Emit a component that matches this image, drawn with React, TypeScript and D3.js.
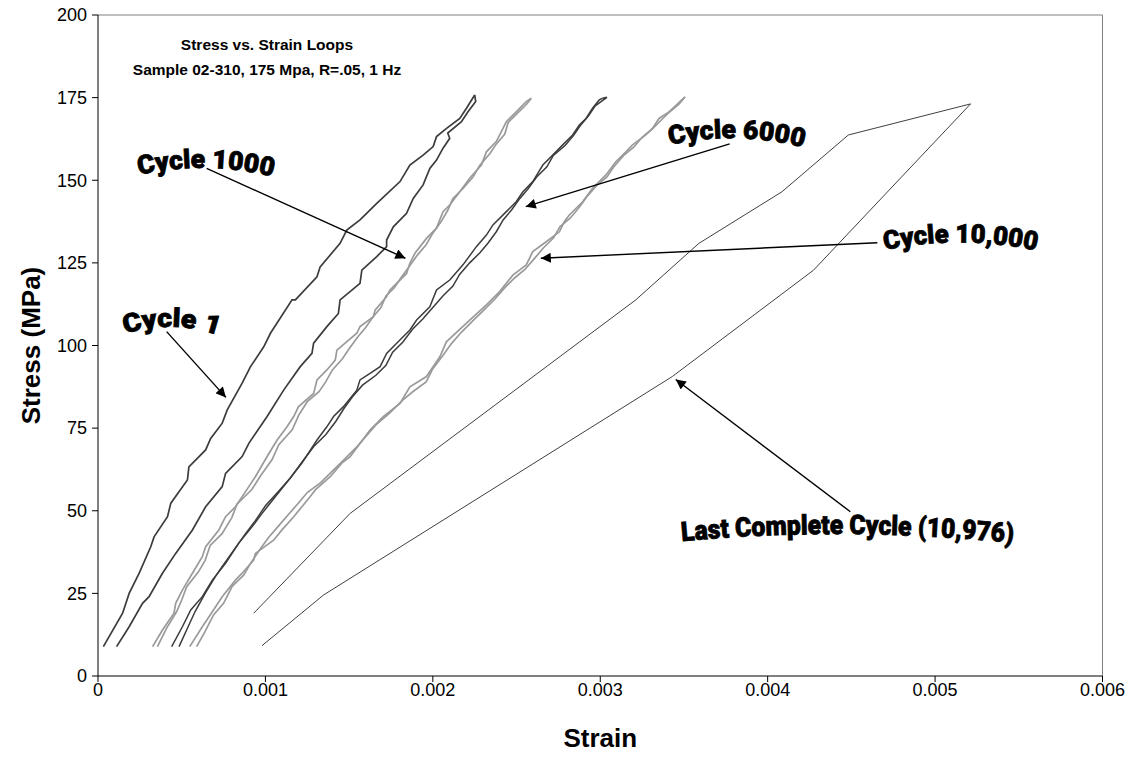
import React from 'react';
import * as d3 from 'd3';

// strain values in units of 1e-3 (milli-strain), stress in MPa
const xTickValues = [0, 1, 2, 3, 4, 5, 6];
const xTickLabels = ['0', '0.001', '0.002', '0.003', '0.004', '0.005', '0.006'];
const yTickValues = [0, 25, 50, 75, 100, 125, 150, 175, 200];

const cycle1Load: [number, number][] = [
  [0.032, 8.9], [0.147, 19.0], [0.186, 25.0], [0.246, 31.1], [0.315, 39.1], [0.335, 42.1],
  [0.415, 48.2], [0.435, 52.3], [0.534, 59.3], [0.543, 63.3], [0.643, 68.4], [0.673, 71.9],
  [0.742, 76.5], [0.772, 80.5], [0.861, 88.6], [0.911, 93.6], [0.99, 99.6], [1.03, 103.7],
  [1.159, 113.8], [1.179, 113.8], [1.308, 120.8], [1.327, 123.8], [1.446, 130.9], [1.486, 134.9],
  [1.565, 138.0], [1.665, 143.0], [1.804, 149.6], [1.863, 154.6], [1.942, 157.6], [2.002, 160.2],
  [2.022, 163.2], [2.082, 165.7], [2.161, 168.7], [2.201, 171.8], [2.25, 175.8],
];
const cycle1Unload: [number, number][] = [
  [0.111, 8.9], [0.186, 14.9], [0.266, 22.0], [0.305, 24.0], [0.385, 31.1], [0.464, 37.1],
  [0.564, 44.2], [0.643, 51.2], [0.742, 57.3], [0.762, 61.3], [0.861, 66.4], [0.901, 70.4],
  [1.01, 78.5], [1.109, 86.5], [1.208, 93.6], [1.278, 97.6], [1.288, 100.7], [1.367, 105.7],
  [1.436, 109.7], [1.446, 113.8], [1.565, 118.8], [1.576, 122.8], [1.665, 126.9], [1.724, 129.9],
  [1.724, 131.9], [1.764, 135.9], [1.843, 140.0], [1.883, 144.5], [1.942, 148.6], [1.982, 153.6],
  [2.022, 156.1], [2.061, 159.7], [2.101, 162.7], [2.089, 164.3], [2.171, 167.7], [2.21, 170.7],
  [2.256, 173.8], [2.25, 175.8],
];
const cycle1000Load: [number, number][] = [
  [0.326, 8.9], [0.385, 13.9], [0.454, 19.0], [0.464, 22.0], [0.504, 26.0], [0.564, 31.1],
  [0.623, 36.1], [0.643, 39.1], [0.722, 44.2], [0.762, 48.2], [0.821, 51.2], [0.901, 57.3],
  [0.94, 60.3], [1.01, 66.4], [1.07, 71.4], [1.129, 75.4], [1.169, 78.5], [1.198, 81.5],
  [1.288, 85.5], [1.308, 89.6], [1.367, 92.6], [1.417, 95.6], [1.427, 98.6], [1.476, 100.7],
  [1.546, 103.7], [1.565, 105.7], [1.645, 108.7], [1.655, 110.7], [1.724, 114.8], [1.744, 116.8],
  [1.784, 118.8], [1.843, 121.8], [1.863, 124.9], [1.893, 127.9], [1.962, 132.4], [2.022, 135.5],
  [2.061, 140.5], [2.101, 142.5], [2.161, 146.5], [2.22, 150.6], [2.29, 154.6], [2.32, 158.6],
  [2.379, 161.7], [2.419, 165.7], [2.439, 167.7], [2.498, 170.7], [2.558, 173.8], [2.588, 174.8],
];
const cycle1000Unload: [number, number][] = [
  [0.355, 8.9], [0.41, 14.5], [0.47, 19.5], [0.5, 23.0], [0.53, 27.0], [0.6, 31.5],
  [0.64, 35.0], [0.67, 39.5], [0.74, 43.0], [0.8, 48.0], [0.83, 52.0], [0.92, 56.5],
  [0.97, 60.5], [1.04, 65.5], [1.08, 70.0], [1.16, 74.5], [1.2, 79.0], [1.25, 83.0],
  [1.32, 86.0], [1.36, 89.0], [1.4, 92.6], [1.46, 96.0], [1.5, 99.0], [1.55, 102.5],
  [1.6, 105.5], [1.64, 108.5], [1.69, 111.5], [1.72, 115.0], [1.77, 117.5], [1.81, 120.5],
  [1.86, 124.0], [1.91, 127.5], [1.96, 130.5], [2.0, 134.0], [2.05, 137.5], [2.09, 141.0],
  [2.12, 144.5], [2.18, 147.5], [2.24, 151.0], [2.28, 154.5], [2.34, 158.0], [2.38, 161.0],
  [2.43, 164.0], [2.45, 167.5], [2.5, 170.0], [2.56, 173.0], [2.588, 174.8],
];
const cycle6000Load: [number, number][] = [
  [0.44, 8.9], [0.504, 14.9], [0.554, 20.0], [0.623, 24.0], [0.683, 29.0], [0.762, 34.1],
  [0.841, 40.2], [0.921, 45.2], [0.98, 49.2], [1.06, 54.3], [1.139, 59.3], [1.218, 64.4],
  [1.308, 71.4], [1.367, 75.4], [1.407, 78.5], [1.466, 81.5], [1.546, 86.5], [1.565, 89.6],
  [1.625, 91.6], [1.685, 93.6], [1.724, 97.6], [1.784, 100.7], [1.863, 104.7], [1.903, 107.7],
  [1.982, 111.7], [2.022, 116.8], [2.101, 119.8], [2.18, 124.4], [2.26, 129.9], [2.32, 133.4],
  [2.359, 136.5], [2.439, 140.5], [2.498, 143.5], [2.538, 146.5], [2.597, 149.6], [2.657, 154.6],
  [2.716, 157.6], [2.776, 160.7], [2.835, 163.7], [2.875, 166.7], [2.915, 168.7], [2.954, 171.8],
  [2.994, 174.3], [3.014, 174.8],
];
const cycle6000Unload: [number, number][] = [
  [0.484, 8.9], [0.53, 14.0], [0.58, 19.5], [0.64, 25.0], [0.7, 30.0], [0.74, 33.0],
  [0.81, 38.0], [0.88, 43.0], [0.94, 47.0], [1.0, 51.5], [1.08, 56.0], [1.15, 60.0],
  [1.23, 65.5], [1.29, 69.5], [1.36, 73.0], [1.42, 77.0], [1.47, 81.0], [1.52, 84.5],
  [1.58, 88.0], [1.66, 91.0], [1.72, 94.0], [1.76, 98.0], [1.82, 101.0], [1.88, 105.0],
  [1.94, 108.0], [2.0, 111.5], [2.06, 115.0], [2.12, 118.0], [2.16, 121.5], [2.22, 125.0],
  [2.28, 128.0], [2.33, 131.0], [2.38, 134.5], [2.42, 138.0], [2.47, 141.0], [2.52, 144.5],
  [2.57, 147.5], [2.62, 151.0], [2.68, 154.0], [2.72, 157.5], [2.79, 160.5], [2.84, 163.5],
  [2.88, 166.5], [2.93, 169.5], [2.97, 172.5], [3.04, 175.1], [3.014, 174.8],
];
const cycle10000Load: [number, number][] = [
  [0.548, 8.9], [0.623, 14.9], [0.663, 17.9], [0.742, 24.0], [0.821, 29.0], [0.861, 31.1],
  [0.93, 35.1], [0.94, 37.1], [1.049, 41.1], [1.099, 44.2], [1.169, 48.2], [1.218, 51.2],
  [1.268, 54.3], [1.298, 56.3], [1.387, 60.3], [1.456, 64.4], [1.506, 66.4], [1.625, 74.4],
  [1.704, 78.5], [1.804, 82.5], [1.863, 87.5], [1.962, 90.6], [2.042, 96.6], [2.081, 101.1],
  [2.201, 106.8], [2.32, 112.3], [2.399, 116.3], [2.478, 121.3], [2.558, 124.4], [2.597, 128.4],
  [2.677, 131.4], [2.756, 134.4], [2.786, 137.5], [2.815, 139.5], [2.895, 143.5], [2.954, 147.6],
  [2.994, 149.6], [3.034, 151.6], [3.093, 155.6], [3.153, 158.6], [3.193, 160.7], [3.272, 163.7],
  [3.312, 165.7], [3.351, 168.7], [3.411, 170.7], [3.506, 175.2],
];
const cycle10000Unload: [number, number][] = [
  [0.589, 8.9], [0.64, 13.5], [0.69, 18.5], [0.75, 22.0], [0.8, 27.0], [0.87, 30.5],
  [0.91, 34.0], [0.97, 38.5], [1.02, 42.0], [1.08, 45.5], [1.14, 49.0], [1.2, 52.5],
  [1.25, 55.5], [1.33, 58.5], [1.4, 62.0], [1.47, 65.5], [1.54, 69.0], [1.6, 72.5],
  [1.66, 76.0], [1.74, 79.5], [1.82, 83.5], [1.88, 86.0], [1.96, 89.0], [2.0, 93.0],
  [2.06, 97.0], [2.11, 100.5], [2.17, 104.0], [2.24, 107.5], [2.3, 110.5], [2.37, 114.0],
  [2.43, 117.5], [2.49, 120.5], [2.55, 123.0], [2.61, 126.5], [2.66, 129.5], [2.72, 132.5],
  [2.76, 136.0], [2.82, 138.5], [2.87, 141.5], [2.92, 145.0], [2.98, 148.5], [3.04, 151.0],
  [3.08, 154.0], [3.14, 157.5], [3.2, 160.0], [3.25, 163.0], [3.31, 165.5], [3.36, 168.0],
  [3.41, 170.5], [3.47, 173.0], [3.506, 175.2],
];
const lastCycleLoad: [number, number][] = [
  [0.93, 19.0], [1.506, 49.2], [3.212, 113.8], [3.589, 130.9], [4.085, 146.5], [4.482, 163.7], [5.212, 173.1],
];
const lastCycleUnload: [number, number][] = [
  [0.98, 9.2], [1.347, 24.5], [3.43, 90.6], [4.274, 122.8], [5.212, 173.1],
];

const series = [
  { data: cycle1Load, color: '#3c3c3c', width: 1.7 },
  { data: cycle1Unload, color: '#3c3c3c', width: 1.7 },
  { data: cycle1000Load, color: '#9a9a9a', width: 1.7 },
  { data: cycle1000Unload, color: '#9a9a9a', width: 1.7 },
  { data: cycle6000Load, color: '#3c3c3c', width: 1.5 },
  { data: cycle6000Unload, color: '#3c3c3c', width: 1.5 },
  { data: cycle10000Load, color: '#9a9a9a', width: 1.7 },
  { data: cycle10000Unload, color: '#9a9a9a', width: 1.7 },
  { data: lastCycleLoad, color: '#404040', width: 1 },
  { data: lastCycleUnload, color: '#404040', width: 1 },
];

// annotations (milli-strain, MPa)
const labelTexts = ['Cycle 1', 'Cycle 1000', 'Cycle 6000', 'Cycle 10,000', 'Last Complete Cycle (10,976)'];
const labelStart: [number, number][] = [[0.161, 103.5], [0.245, 151.6], [3.415, 160.7], [4.699, 128.9], [3.487, 40.8]];
const labelEnd: [number, number][] = [[0.728, 102.9], [1.051, 151.0], [4.221, 159.8], [5.612, 128.6], [5.469, 40.2]];
const arrowFrom: [number, number][] = [[0.41, 104.2], [0.649, 153.6], [3.773, 161.0], [4.655, 131.1], [4.494, 49.7]];
const arrowTo: [number, number][] = [[0.764, 84.3], [1.836, 126.4], [2.555, 142.0], [2.645, 126.4], [3.451, 89.7]];

const W = 1140;
const H = 761;
const left = 98;
const right = 1102.5;
const top = 15;
const bottom = 676;

export default function App() {
  const x = d3.scaleLinear().domain([0, 6]).range([left, right]);
  const y = d3.scaleLinear().domain([0, 200]).range([bottom, top]);
  const line = d3.line<[number, number]>().x((d) => x(d[0])).y((d) => y(d[1]));
  const labelFont = "'Arial Black', 'Roboto', 'Lato', 'DejaVu Sans', sans-serif";

  return (
    <svg width={W} height={H} style={{ position: 'absolute', left: 0, top: 0, background: '#fff' }}
      fontFamily="'Liberation Sans', Arial, sans-serif">
      <defs>
        <marker id="arr" viewBox="0 0 10 10" refX="10" refY="5" markerWidth="13" markerHeight="10"
          markerUnits="userSpaceOnUse" orient="auto">
          <path d="M0,0 L10,5 L0,10 z" fill="#000" />
        </marker>
        {labelTexts.map((t, i) => {
          const x1 = x(labelStart[i][0]);
          const y1 = y(labelStart[i][1]);
          const x2 = x(labelEnd[i][0]);
          const y2 = y(labelEnd[i][1]);
          const mx = (x1 + x2) / 2;
          const my = (y1 + y2) / 2 - 16;
          return <path key={t} id={`lp${i}`} d={`M${x1},${y1} Q${mx},${my} ${x2},${y2}`} fill="none" />;
        })}
      </defs>
      {/* plot frame */}
      <line x1={left} x2={right} y1={top} y2={top} stroke="#808080" strokeWidth={1} />
      <line x1={right} x2={right} y1={top} y2={bottom} stroke="#808080" strokeWidth={1} />
      <line x1={left} x2={left} y1={top} y2={bottom} stroke="#000" strokeWidth={1} />
      <line x1={left} x2={right} y1={bottom} y2={bottom} stroke="#000" strokeWidth={1} />
      {yTickValues.map((v) => (
        <g key={v}>
          <line x1={left - 6} x2={left} y1={y(v)} y2={y(v)} stroke="#000" />
          <text x={left - 11} y={y(v)} dy="0.35em" textAnchor="end" fontSize={18}>{v}</text>
        </g>
      ))}
      {xTickValues.map((v, i) => (
        <g key={v}>
          <line x1={x(v)} x2={x(v)} y1={bottom} y2={bottom + 6} stroke="#000" />
          <text x={x(v)} y={bottom + 20} textAnchor="middle" fontSize={18}>{xTickLabels[i]}</text>
        </g>
      ))}
      <text x={(left + right) / 2} y={747} textAnchor="middle" fontSize={26} fontWeight="bold">Strain</text>
      <text transform={`translate(40,${(top + bottom) / 2}) rotate(-90)`} textAnchor="middle" fontSize={26}
        fontWeight="bold">Stress (MPa)</text>
      <text x={267} y={50} textAnchor="middle" fontSize={15.5} fontWeight="bold">Stress vs. Strain Loops</text>
      <text x={267} y={75} textAnchor="middle" fontSize={15.5} fontWeight="bold">Sample 02-310, 175 Mpa, R=.05, 1 Hz</text>
      {series.map((s, i) => (
        <path key={i} d={line(s.data) || ''} fill="none" stroke={s.color} strokeWidth={s.width}
          strokeLinejoin="miter" />
      ))}
      {arrowFrom.map((f, i) => (
        <line key={i} x1={x(f[0])} y1={y(f[1])} x2={x(arrowTo[i][0])} y2={y(arrowTo[i][1])} stroke="#000"
          strokeWidth={1.4} markerEnd="url(#arr)" />
      ))}
      {labelTexts.map((t, i) => {
        const len = x(labelEnd[i][0]) - x(labelStart[i][0]);
        return (
          <text key={t} fontFamily={labelFont} fontWeight={900} fontSize={i === 4 ? 27 : 26} fill="#000"
            stroke="#000" strokeWidth={0.8}>
            <textPath href={`#lp${i}`} textLength={len} lengthAdjust="spacingAndGlyphs">{t}</textPath>
          </text>
        );
      })}
    </svg>
  );
}
